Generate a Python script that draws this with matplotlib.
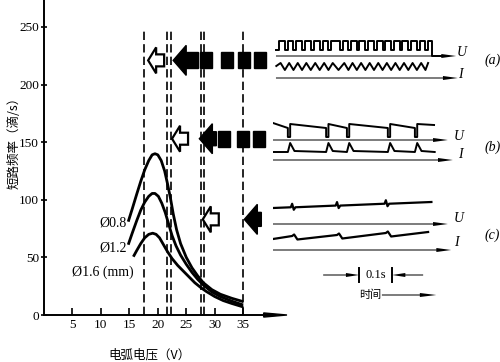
import matplotlib
matplotlib.use('Agg')
import matplotlib.pyplot as plt
from matplotlib.patches import Polygon, Rectangle

plt.rcParams['font.family'] = ['Liberation Serif', 'Noto Sans CJK SC', 'DejaVu Sans']
plt.rcParams['lines.scale_dashes'] = False

# ---------------- data ----------------
x_ticks = [5, 10, 15, 20, 25, 30, 35]
y_ticks = [0, 50, 100, 150, 200, 250]

v08 = [14.8, 15.5, 16.3, 17.0, 17.7, 18.4, 19.0, 19.5, 20.0, 20.6, 21.2, 21.7, 22.2, 22.7,
       23.3, 24.0, 25.0, 26.0, 27.0, 28.0, 29.5, 31.0, 33.0, 35.0]
f08 = [81, 92, 105, 116, 126, 134, 139, 140, 139, 134, 125, 114, 102, 88,
       74, 62, 50, 41, 34, 28, 22, 18, 14.5, 11.6]
v12 = [14.8, 15.5, 16.3, 17.0, 17.7, 18.4, 19.0, 19.5, 20.1, 20.7, 21.3, 21.9, 22.5,
       23.2, 24.0, 25.0, 26.0, 27.0, 28.0, 29.5, 31.0, 33.0, 35.0]
f12 = [61, 71, 82, 91, 98, 103, 105.5, 105.5, 103, 97, 89, 79, 69,
       60, 52, 44, 37, 31, 26, 20, 16, 12, 8.7]
v16 = [15.7, 16.3, 17.0, 17.7, 18.4, 19.1, 19.7, 20.3, 21.0, 21.7, 22.5, 23.5, 24.5,
       25.5, 26.5, 27.5, 28.5, 30.0, 31.5, 33.0, 35.0]
f16 = [50.6, 56, 62, 67, 70, 71, 70, 67, 61, 55, 49, 43, 38,
       33, 28, 24, 20.5, 16, 12.5, 10, 7]
curve_labels = ['Ø0.8', 'Ø1.2', 'Ø1.6 (mm)']

dashed_v = [17.6, 21.7, 22.4, 27.6, 28.2, 35.0]

# transfer modes (a), (b), (c): hollow arrow tip, filled arrow tip, row level, squares
mode_names = ['(a)', '(b)', '(c)']
hollow_tip_v = [18.3, 22.5, 27.9]
filled_tip_v = [22.7, 27.3, 35.2]
row_f = [221, 153, 83]
squares_v = [[26.0, 28.5, 32.1, 35.1, 38.0], [31.6, 34.9, 37.7], []]

# oscillogram event times (s)
a_dips = [0.010, 0.036, 0.062, 0.088, 0.115, 0.142, 0.168, 0.203, 0.228, 0.254,
          0.280, 0.306, 0.332, 0.358, 0.384, 0.410, 0.436, 0.462]
b_dips = [0.045, 0.161, 0.224, 0.348, 0.430]
c_events = [0.058, 0.194, 0.342]

# ---------------- figure ----------------
fig = plt.figure(figsize=(5.0, 3.62), dpi=100)
ax = fig.add_axes([44 / 500, 47 / 362, 243 / 500, 315 / 362])
ax.set_xlim(0, 42.7)
ax.set_ylim(0, 273.4)
for s in ['top', 'right']:
    ax.spines[s].set_visible(False)
ax.spines['left'].set_linewidth(1.4)
ax.spines['bottom'].set_linewidth(1.4)
ax.spines['bottom'].set_bounds(0, 39.5)
ax.add_patch(Polygon([[38.6, 1.8], [42.7, 0], [38.6, -1.8]], closed=True,
                     color='black', clip_on=False))
ax.set_xticks(x_ticks)
ax.set_yticks(y_ticks)
ax.tick_params(axis='x', direction='in', length=5, width=1.2, labelsize=9.5, pad=3)
ax.tick_params(axis='y', direction='inout', length=5, width=1.2, labelsize=9.5, pad=1)
ax.patch.set_alpha(0)

for v in dashed_v:
    ax.plot([v, v], [0, 249], color='black', lw=1.2, dashes=(6, 3), clip_on=False)

for vv, ff in [(v08, f08), (v12, f12), (v16, f16)]:
    ax.plot(vv, ff, color='black', lw=2.0, solid_capstyle='butt')

ax.text(14.6, 80, curve_labels[0], ha='right', va='center', fontsize=10)
ax.text(14.6, 58, curve_labels[1], ha='right', va='center', fontsize=10)
ax.text(15.8, 37, curve_labels[2], ha='right', va='center', fontsize=10)

sx, sy = 5.69, 1.152  # px per unit
def shape(tip_v, yc, pts):
    return [[tip_v + px / sx, yc + py / sy] for px, py in pts]

hollow_pts = [(0, 0), (8, 13), (8, 6), (16, 6), (16, -6), (8, -6), (8, -13)]
filled_pts = [(0, 0), (13, 15), (13, 7), (17, 7), (17, -7), (13, -7), (13, -15)]
for hv, fv, yc, sq in zip(hollow_tip_v, filled_tip_v, row_f, squares_v):
    ax.add_patch(Polygon(shape(hv, yc, hollow_pts), closed=True, facecolor='white',
                         edgecolor='black', lw=1.6, clip_on=False, zorder=5))
    ax.add_patch(Polygon(shape(fv, yc, filled_pts), closed=True, facecolor='black',
                         edgecolor='black', lw=1, clip_on=False, zorder=5))
    for c in sq:
        ax.add_patch(Rectangle((c - 6 / sx, yc - 8 / sy), 12 / sx, 16 / sy,
                               color='black', clip_on=False, zorder=5))

ax.text(-5.3, 152, '短路频率（滴/s）', rotation=90, ha='center', va='center',
        fontsize=9, family=['Noto Sans CJK SC'], transform=ax.transData, clip_on=False)
ax.text(18.6, -35, '电弧电压（V）', ha='center', va='center', fontsize=9,
        family=['Noto Sans CJK SC'], clip_on=False)

# ---------------- oscillograms ----------------
ax2 = fig.add_axes([273 / 500, 0, 227 / 500, 1])
ax2.set_xlim(0, 227 / 330)
ax2.set_ylim(362, 0)
ax2.axis('off')
ax2.patch.set_alpha(0)

def baseline(y, t0, t1):
    ax2.arrow(t0, y, t1 - t0, 0, width=1.0, head_width=4.0, head_length=0.045,
              length_includes_head=True, color='black', lw=0)

lab = dict(fontsize=10, style='italic', ha='left', va='center')

# (a)
tt, yy = [a_dips[0] - 0.001], [50]
for d in a_dips:
    tt += [d, d, d + 0.008, d + 0.008]
    yy += [41, 50, 50, 41] if d != a_dips[0] else [50, 50, 50, 41]
tt += [0.482, 0.482, 0.52]
yy += [41, 56, 56]
ax2.plot(tt, yy, color='black', lw=1.4)
zt, zy = [0.010], [66]
for i, d in enumerate(a_dips[:-1]):
    zt += [d + 0.013, (d + a_dips[i + 1]) / 2 + 0.013]
    zy += [63, 70]
zt += [0.47]
zy += [63]
ax2.plot(zt, zy, color='black', lw=1.4)
baseline(56, 0.009, 0.555)
baseline(78, 0.009, 0.560)
ax2.text(0.556, 53, 'U', **lab)
ax2.text(0.562, 74, 'I', **lab)
ax2.text(0.640, 60, mode_names[0], **lab)

# (b)
bt, by = [0.0], [123]
for i, d in enumerate(b_dips):
    bt += [d, d, d + 0.007, d + 0.007]
    by += [128, 137, 137, 124]
bt += [0.488]
by += [125]
ax2.plot(bt, by, color='black', lw=1.4)
it, iy = [0.0], [152]
for d in b_dips:
    it += [d, d + 0.007, d + 0.02]
    iy += [152, 143, 151]
it += [0.49]
iy += [152]
ax2.plot(it, iy, color='black', lw=1.4)
baseline(140, 0.0, 0.530)
baseline(160, 0.0, 0.545)
ax2.text(0.548, 136, 'U', **lab)
ax2.text(0.560, 155, 'I', **lab)
ax2.text(0.640, 147, mode_names[1], **lab)

# (c)
ut, uy = [0.0], [208]
for e in c_events:
    base = 208 - 6 * e / 0.48
    ut += [e - 0.004, e, e + 0.005, e + 0.01]
    uy += [base, base - 3.5, base + 2.5, base]
ut += [0.48]
uy += [202]
ax2.plot(ut, uy, color='black', lw=1.6)
ct, cy = [0.0], [239]
lvl = [236, 235, 233]
for e, l in zip(c_events, lvl):
    ct += [e, e + 0.006, e + 0.016]
    cy += [l, l - 1.5, l + 3.5]
ct += [0.47]
cy += [232]
ax2.plot(ct, cy, color='black', lw=1.6)
baseline(224, 0.0, 0.530)
baseline(250, 0.0, 0.540)
ax2.text(0.548, 218, 'U', **lab)
ax2.text(0.548, 243, 'I', **lab)
ax2.text(0.640, 235, mode_names[2], **lab)

# time scale
scale_t0, scale_t1 = 0.261, 0.361
ax2.plot([scale_t0, scale_t0], [268, 282], color='black', lw=1.4)
ax2.plot([scale_t1, scale_t1], [268, 282], color='black', lw=1.4)
ax2.arrow(0.152, 275, scale_t0 - 0.152, 0, width=1.0, head_width=4, head_length=0.04,
          length_includes_head=True, color='black', lw=0)
ax2.arrow(0.455, 275, scale_t1 - 0.455, 0, width=1.0, head_width=4, head_length=0.04,
          length_includes_head=True, color='black', lw=0)
ax2.text((scale_t0 + scale_t1) / 2, 275, '0.1s', ha='center', va='center', fontsize=9)
ax2.text(0.296, 295, '时间', ha='center', va='center', fontsize=8,
         family=['Noto Sans CJK SC'])
ax2.arrow(0.330, 295, 0.165, 0, width=1.0, head_width=4, head_length=0.05,
          length_includes_head=True, color='black', lw=0)

fig.savefig('out.png', dpi=100)
